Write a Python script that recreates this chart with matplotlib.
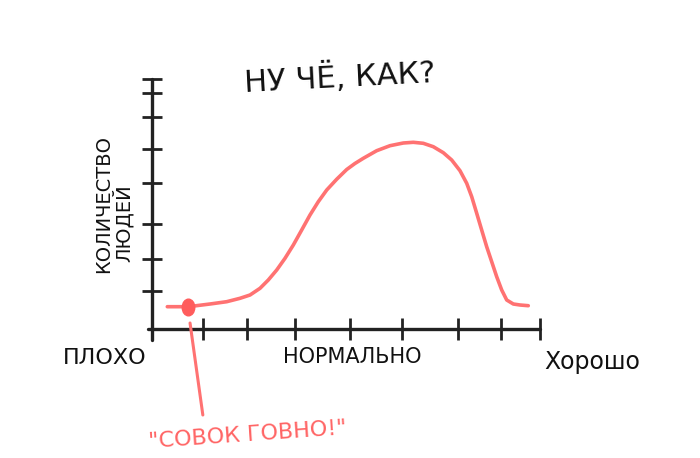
"""
Hand-drawn style sketch: how many people think it's bad / normal / good
"""

import matplotlib
matplotlib.use('Agg')
import matplotlib.pyplot as plt
from matplotlib.markers import MarkerStyle
from matplotlib.transforms import Affine2D

# Curve (x: bad -> good, 0..100; y: number of people, 0..100)
curve_x = [3.94, 9.36, 14.95, 19.25, 22.68, 25.26, 27.84, 29.97, 32.14, 34.28,
           36.42, 38.58, 40.72, 42.86, 45.03, 47.60, 50.18, 52.30, 54.46, 57.91,
           61.34, 64.77, 67.35, 69.92, 72.50, 75.08, 77.24, 79.38, 81.11, 82.40,
           83.69, 84.97, 86.26, 87.55, 88.84, 90.13, 91.42, 93.12, 94.85, 96.98]
curve_y = [8.92, 8.92, 10.0, 10.92, 12.28, 13.6, 16.28, 19.6, 23.6, 28.28,
           33.6, 39.6, 45.6, 50.92, 55.6, 59.9, 63.8, 66.2, 68.28, 71.32,
           73.32, 74.4, 74.68, 74.28, 72.92, 70.52, 67.6, 63.32, 58.28, 52.92,
           46.28, 39.6, 32.92, 26.92, 20.92, 15.6, 11.6, 10.0, 9.6, 9.32]

# the marked point and its pointer line
marked_x = 9.3
marked_y = 8.8
pointer_x = [9.8, 13.1]
pointer_y = [2.4, -34.4]

# hand-placed tick marks (irregular, like the drawing)
xtick_pos = [13.1, 24.5, 36.9, 51.0, 64.4, 78.9, 89.9, 100]
ytick_pos = [15.2, 28.0, 42.0, 58.4, 72.0, 84.8, 94.4, 100]

title_text = 'НУ ЧЁ, КАК?'
ylabel_lines = ['КОЛИЧЕСТВО', 'ЛЮДЕЙ']
xlabel_left = 'ПЛОХО'
xlabel_mid = 'НОРМАЛЬНО'
xlabel_right = 'Хорошо'
quote_text = '"СОВОК ГОВНО!"'

plt.rcParams['font.family'] = ['DejaVu Sans']

fig = plt.figure(figsize=(7.0, 4.58), dpi=100)
ax = fig.add_axes([0, 0, 1, 1])
ax.set_xlim(-39.18, 141.24)
ax.set_ylim(-51.6, 131.6)

# Axes drawn as spines crossing at 0
for side in ['top', 'right']:
    ax.spines[side].set_visible(False)
ax.spines['left'].set_position(('data', 0))
ax.spines['bottom'].set_position(('data', 0))
ax.spines['left'].set_bounds(-4.4, 100)
ax.spines['bottom'].set_bounds(-1, 100)
for side in ['left', 'bottom']:
    ax.spines[side].set_linewidth(2.4)
    ax.spines[side].set_color('#222222')
    ax.spines[side].set_capstyle('round')

ax.set_xticks(xtick_pos)
ax.set_yticks(ytick_pos)
ax.set_xticklabels([])
ax.set_yticklabels([])
ax.tick_params(axis='x', direction='inout', length=16, width=2.0, color='#222222')
ax.tick_params(axis='y', direction='inout', length=15, width=2.0, color='#222222')
ax.patch.set_visible(False)

# main curve
red = '#ff7272'
ax.plot(curve_x, curve_y, color=red, linewidth=2.6, solid_capstyle='round',
        solid_joinstyle='round', zorder=3)

# marked point (slightly tall blob) and pointer line
blob = MarkerStyle('o', transform=Affine2D().scale(0.75, 1.0))
ax.plot([marked_x], [marked_y], marker=blob, markersize=12, color='#ff5c5c',
        linestyle='none', zorder=4)
ax.plot(pointer_x, pointer_y, color=red, linewidth=2.2, solid_capstyle='round', zorder=3)

# texts
ax.text(48.5, 100.8, title_text, fontsize=22, ha='center', va='center',
        rotation=3, color='#111111')
ax.text(-12.6, 50.0, ylabel_lines[0], fontsize=14, ha='center', va='center',
        rotation=90, color='#111111')
ax.text(-7.5, 42.4, ylabel_lines[1], fontsize=14, ha='center', va='center',
        rotation=90, color='#111111')
ax.text(-12.1, -11.6, xlabel_left, fontsize=16, ha='center', va='center', color='#111111')
ax.text(51.5, -11.2, xlabel_mid, fontsize=15, ha='center', va='center', color='#111111')
ax.text(113.4, -13.2, xlabel_right, fontsize=17, ha='center', va='center', color='#111111')
ax.text(24.7, -42.4, quote_text, fontsize=16, ha='center', va='center',
        rotation=4, color='#ff6464')

fig.savefig('out.png', dpi=100)
